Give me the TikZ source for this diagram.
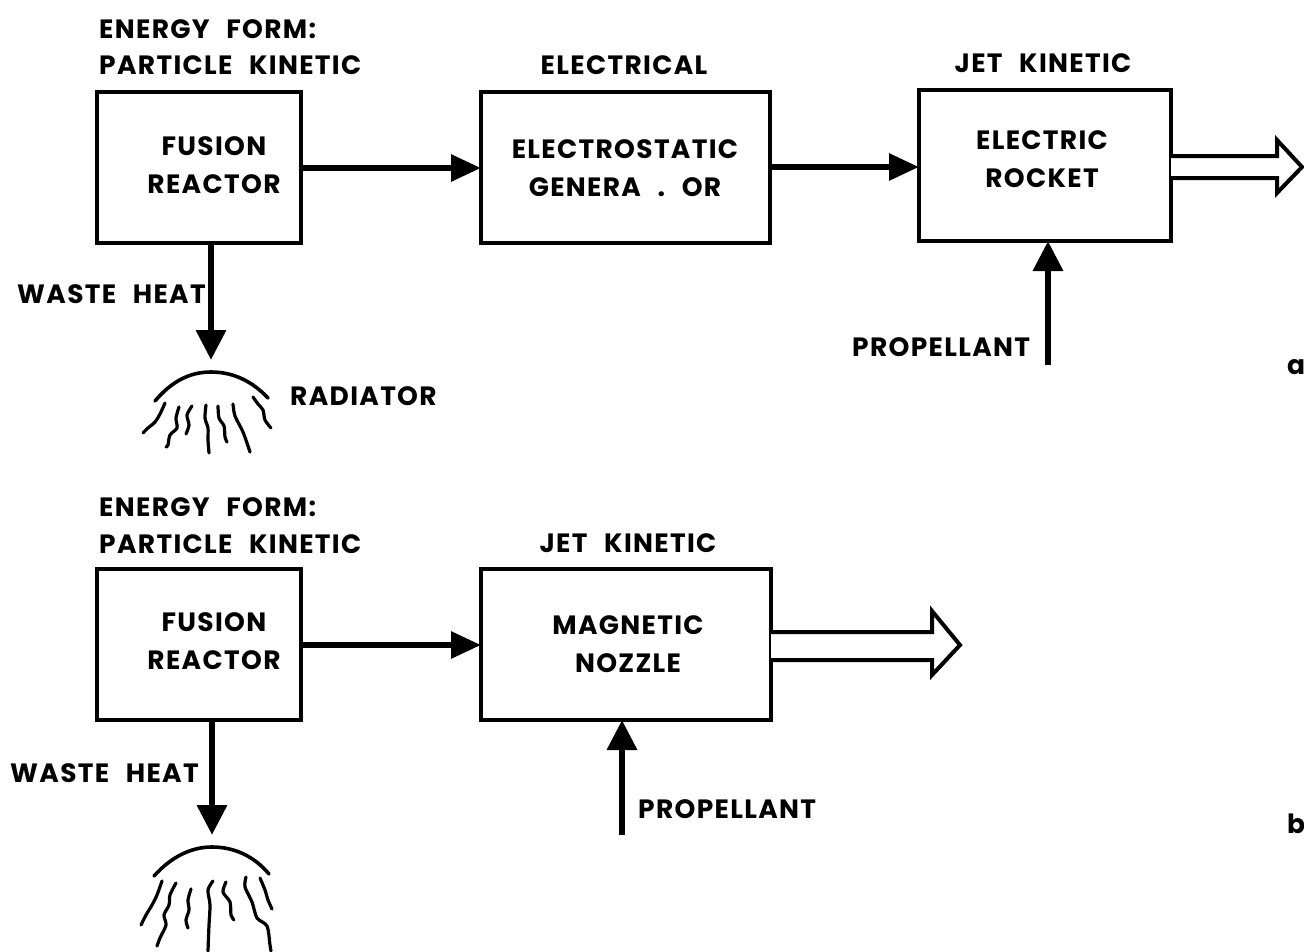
\documentclass[tikz,border=0pt]{standalone}
\usepackage{fontspec}
\setmainfont{Poppins}[LetterSpace=5,WordSpace=2.4]
\usetikzlibrary{arrows.meta,calc}
\tikzset{
  blockbox/.style={draw,line width=4pt,inner sep=0pt,outer sep=0pt,anchor=north west,align=center},
  lab/.style={inner sep=0pt,font=\fontsize{26.5}{37.5}\selectfont\bfseries,align=center},
  flow/.style={line width=6pt,-{Triangle[length=30pt,width=26pt]}},
  feed/.style={line width=6.5pt,-{Triangle[length=30pt,width=29pt]}},
  hollow/.style={line width=4pt,line join=miter,fill=white},
  wig/.style={line width=3.2pt,line cap=round,smooth},
  dome/.style={line width=3.6pt,line cap=round}
}
\begin{document}
\begin{tikzpicture}[x=1pt,y=-1pt]
\useasboundingbox (0,0) rectangle (1304,951);
% panel a
\node[blockbox,minimum width=204pt,minimum height=151pt] (ra) at (97,92) {};
\node[blockbox,minimum width=289pt,minimum height=151pt] (ga) at (481,92) {};
\node[blockbox,minimum width=252pt,minimum height=151pt] (ea) at (919,90) {};
\node[lab] (ral) at (214,165) {FUSION\\REACTOR};
\node[lab] (gal) at (625,168) {ELECTROSTATIC\\GENERA . OR};
\node[lab] (eal) at (1042,159) {ELECTRIC\\ROCKET};
\node[lab,anchor=west] (hd1) at (99,29) {ENERGY FORM:};
\node[lab,anchor=west] (hd2) at (99,65) {PARTICLE KINETIC};
\node[lab] (hd3) at (624,65) {ELECTRICAL};
\node[lab] (hd4) at (1043,63) {JET KINETIC};
\node[lab,anchor=west] (wa) at (17,294) {WASTE HEAT};
\node[lab,anchor=west] (pa) at (852,347) {PROPELLANT};
\node[lab,anchor=west] (rl) at (290,396) {RADIATOR};
\node[lab] (la) at (1296,367) {a};
\coordinate (ratip) at (211,360);
\coordinate (patail) at (1048,365);
\draw[flow] (ra.east |- 0,168) -- (ga.west |- 0,168);
\draw[flow] (ga.east |- 0,167) -- (ea.west |- 0,167);
\draw[feed] (ra.south -| ratip) -- (ratip);
\draw[feed] (patail) -- (ea.south -| patail);
\draw[hollow] (ea.east |- 0,156) -- (1277,156) -- (1277,140) -- (1302,167) -- (1277,193) -- (1277,178) -- (ea.east |- 0,178);
\draw[dome] (155,401) .. controls (172,381) and (190,372) .. (211,372) .. controls (233,372) and (252,381) .. (268,398);
\draw[wig] plot coordinates {(165,403)(160,414)(155,422)(148,428)(143,433)};
\draw[wig] plot coordinates {(179,407)(176,418)(177,428)(170,435)(168,445)(166,447)};
\draw[wig] plot coordinates {(192,406)(187,415)(189,425)(186,434)};
\draw[wig] plot coordinates {(206,405)(205,418)(208,428)(208,440)(209,453)};
\draw[wig] plot coordinates {(218,406)(219,418)(224,426)(225,437)(227,442)};
\draw[wig] plot coordinates {(233,404)(235,416)(243,432)(250,452)};
\draw[wig] plot coordinates {(253,397)(258,404)(263,410)(265,420)(271,428)};
% panel b
\node[blockbox,minimum width=204pt,minimum height=151pt] (rb) at (97,569) {};
\node[blockbox,minimum width=290pt,minimum height=151pt] (nb) at (481,569) {};
\node[lab] (rbl) at (214,641) {FUSION\\REACTOR};
\node[lab] (nbl) at (628,644) {MAGNETIC\\NOZZLE};
\node[lab,anchor=west] (hd5) at (99,507) {ENERGY FORM:};
\node[lab,anchor=west] (hd6) at (99,544) {PARTICLE KINETIC};
\node[lab] (hd7) at (628,543) {JET KINETIC};
\node[lab,anchor=west] (wb) at (10,773) {WASTE HEAT};
\node[lab,anchor=west] (pb) at (638,809) {PROPELLANT};
\node[lab] (lb) at (1296,824) {b};
\coordinate (rbtip) at (212,835);
\coordinate (pbtail) at (622,835);
\draw[flow] (rb.east |- 0,645) -- (nb.west |- 0,645);
\draw[feed] (rb.south -| rbtip) -- (rbtip);
\draw[feed] (pbtail) -- (nb.south -| pbtail);
\draw[hollow] (nb.east |- 0,632) -- (932,632) -- (932,611) -- (960,645) -- (932,675) -- (932,660) -- (nb.east |- 0,660);
\draw[dome] (154,876) .. controls (172,856) and (192,847) .. (212,847) .. controls (234,847) and (254,856) .. (269,874);
\draw[wig] plot coordinates {(162,881)(157,895)(152,905)(146,915)(141,925)};
\draw[wig] plot coordinates {(176,883)(170,895)(169,905)(164,915)(166,925)(160,938)(157,946)};
\draw[wig] plot coordinates {(191,889)(188,900)(189,910)(186,920)(188,928)};
\draw[wig] plot coordinates {(213,881)(208,890)(210,905)(209,925)(208,951)};
\draw[wig] plot coordinates {(226,882)(223,892)(230,902)(231,915)(234,920)};
\draw[wig] plot coordinates {(246,877)(245,887)(252,902)(257,918)(267,926)(270,945)(271,951)};
\draw[wig] plot coordinates {(260,878)(265,890)(268,900)(272,909)};
\end{tikzpicture}
\end{document}
